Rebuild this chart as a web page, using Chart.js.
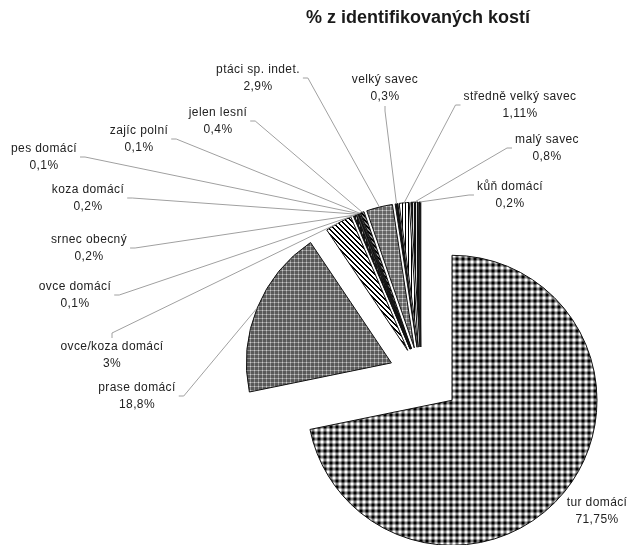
<!DOCTYPE html>
<html>
<head>
<meta charset="utf-8">
<script src="https://cdn.jsdelivr.net/npm/chart.js@4"></script>
<style>
  html, body { margin: 0; padding: 0; background: #fff; }
</style>
</head>
<body>
<canvas id="pieChart" width="633" height="545"></canvas>
<script>
// Data
const TITLE = '% z identifikovaných kostí';
const categories = ['tur domácí', 'prase domácí', 'ovce/koza domácí', 'ovce domácí', 'srnec obecný',
    'koza domácí', 'pes domácí', 'zajíc polní', 'jelen lesní', 'ptáci sp. indet.',
    'velký savec', 'středně velký savec', 'malý savec', 'kůň domácí'];
const shares = [71.75, 18.8, 3, 0.1, 0.2, 0.2, 0.1, 0.1, 0.4, 2.9, 0.3, 1.11, 0.8, 0.2];

// Layout (label block centre x, first line y) and where the leader line leaves the label
const labelPos = [[597, 503], [137, 388], [112, 347], [75, 287], [89, 240], [88, 190], [44, 149],
    [139, 131], [218, 113], [258, 70], [385, 80], [520, 97], [547, 140], [510, 187]];
const labelSide = ['none', 'r', 't', 'r', 'r', 'r', 'r', 'r', 'r', 'r', 'b', 'l', 'l', 'l'];
const explodeBy = [40, 32, 28, 28, 28, 28, 28, 28, 28, 28, 28, 28, 28, 28];
const TITLE_POS = [418, 18];
const FONT = '"Liberation Sans", Arial, sans-serif';

const fmt = v => String(v).replace('.', ',') + '%';

// Fill patterns
function makePattern(size, paint) {
    const c = document.createElement('canvas');
    c.width = c.height = size;
    paint(c.getContext('2d'), size);
    return c.getContext('2d').createPattern(c, 'repeat');
}
function plaid(bands) {
    return makePattern(bands.length, (g, n) => {
        for (let i = 0; i < n; i++) {
            for (let j = 0; j < n; j++) {
                const v = Math.round(255 * (1 - (bands[i] + bands[j]) / 2));
                g.fillStyle = `rgb(${v},${v},${v})`;
                g.fillRect(i, j, 1, 1);
            }
        }
    });
}
function diagonal(size, dark, fg, bg) {
    return makePattern(size, (g, n) => {
        for (let i = 0; i < n; i++) {
            for (let j = 0; j < n; j++) {
                g.fillStyle = (((i - j) % n + n) % n) < dark ? fg : bg;
                g.fillRect(i, j, 1, 1);
            }
        }
    });
}
function vertical(size, dark, fg, bg) {
    return makePattern(size, (g, n) => {
        g.fillStyle = bg; g.fillRect(0, 0, n, n);
        g.fillStyle = fg; g.fillRect(0, 0, dark, n);
    });
}

const turFill = plaid([1, 1, 0.5, 0, 0, 0.5]);
const praseFill = plaid([0.65, 0.65, 0.2, 0.65]);
const ptaciFill = plaid([0.6, 0.6, 0.15, 0.6]);
const stripeFill = diagonal(5, 2, '#000', '#fff');
const vLines = vertical(3, 1, '#000', '#fff');
const vDark = vertical(3, 2, '#111', '#ddd');

const fills = [turFill, praseFill, stripeFill, '#222', vDark, '#555', '#000', '#fff',
    diagonal(4, 2, '#000', '#888'), ptaciFill, '#111', vLines, vDark, '#000'];

// Explode each slice along its bisector, after Chart.js has laid the arcs out
const explodePlugin = {
    id: 'explode',
    afterDatasetUpdate(chart, args) {
        args.meta.data.forEach((arc, i) => {
            const mid = (arc.startAngle + arc.endAngle) / 2;
            arc.x += Math.cos(mid) * explodeBy[i];
            arc.y += Math.sin(mid) * explodeBy[i];
        });
    }
};

// Title, slice labels and leader lines
const labelPlugin = {
    id: 'sliceLabels',
    afterDraw(chart) {
        const ctx = chart.ctx;
        const meta = chart.getDatasetMeta(0);
        ctx.save();
        ctx.textAlign = 'center';
        ctx.textBaseline = 'middle';
        ctx.fillStyle = '#1a1a1a';
        ctx.font = 'bold 18px ' + FONT;
        ctx.fillText(TITLE, TITLE_POS[0], TITLE_POS[1]);

        ctx.font = '12px ' + FONT;
        ctx.letterSpacing = '0.4px';
        meta.data.forEach((arc, i) => {
            const [lx, ly] = labelPos[i];
            const lines = [categories[i], fmt(shares[i])];
            const w = Math.max(...lines.map(t => ctx.measureText(t).width));
            ctx.fillStyle = '#222';
            lines.forEach((t, k) => ctx.fillText(t, lx, ly + k * 17));

            const side = labelSide[i];
            if (side === 'none') return;
            let ax, ay, jx = 0, jy = 0;
            if (side === 'r') { ax = lx + w / 2 + 3; ay = ly + 8; jx = 5; }
            if (side === 'l') { ax = lx - w / 2 - 3; ay = ly + 8; jx = -5; }
            if (side === 't') { ax = lx; ay = ly - 9; jy = -5; }
            if (side === 'b') { ax = lx; ay = ly + 26; jy = 5; }
            const mid = (arc.startAngle + arc.endAngle) / 2;
            const ex = arc.x + Math.cos(mid) * arc.outerRadius;
            const ey = arc.y + Math.sin(mid) * arc.outerRadius;
            ctx.strokeStyle = '#a0a0a0';
            ctx.lineWidth = 1;
            ctx.beginPath();
            ctx.moveTo(ax, ay);
            ctx.lineTo(ax + jx, ay + jy);
            ctx.lineTo(ex, ey);
            ctx.stroke();
        });
        ctx.restore();
    }
};

new Chart(document.getElementById('pieChart'), {
    type: 'pie',
    data: {
        labels: categories,
        datasets: [{
            data: shares,
            backgroundColor: fills,
            borderColor: '#111',
            borderWidth: 1
        }]
    },
    options: {
        responsive: false,
        devicePixelRatio: 1,
        animation: false,
        events: [],
        radius: 145,
        layout: { padding: { left: 230, right: 21, top: 205, bottom: 0 } },
        plugins: {
            legend: { display: false },
            title: { display: false },
            tooltip: { enabled: false }
        }
    },
    plugins: [explodePlugin, labelPlugin]
});
</script>
</body>
</html>
